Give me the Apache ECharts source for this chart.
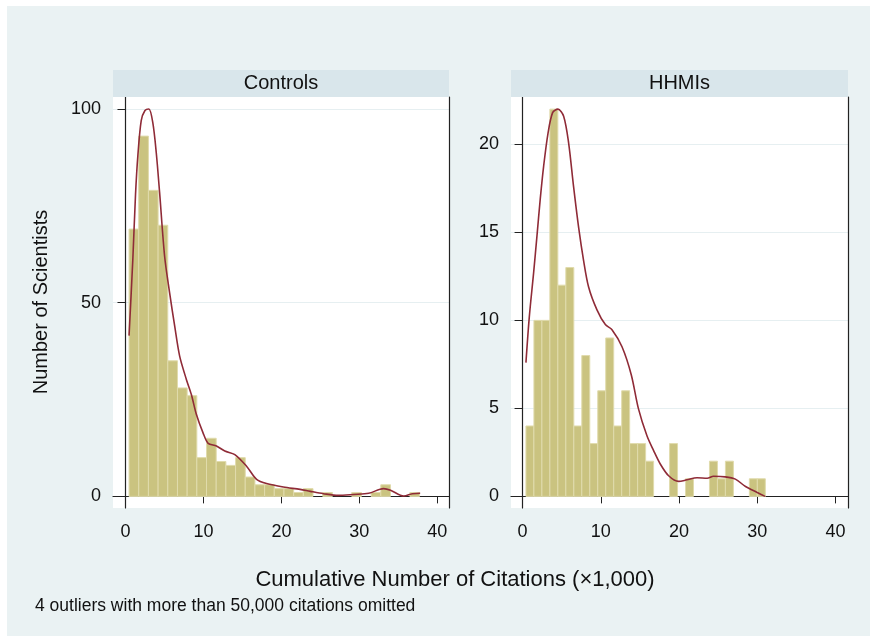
<!DOCTYPE html>
<html>
<head>
<meta charset="utf-8">
<script src="https://cdn.jsdelivr.net/npm/echarts@6/dist/echarts.min.js"></script>
<style>
  html, body { margin: 0; padding: 0; background: #ffffff; }
  #chart { width: 870px; height: 636px; }
</style>
</head>
<body>
<div id="chart"></div>
<script>
// Histogram counts per bin (30 equal-width bins per group)
const controlsCounts = [69, 93, 79, 70, 35, 28, 26, 10, 15, 9, 8, 10, 5, 3, 3, 2, 2, 1, 2, 0, 1, 0, 0, 1, 0, 1, 3, 0, 0, 1];
const hhmiCounts     = [4, 10, 10, 22, 12, 13, 4, 8, 3, 6, 9, 4, 6, 3, 3, 2, 0, 0, 3, 0, 1, 0, 0, 2, 1, 2, 0, 0, 1, 1];

// Bin layout (thousands of citations)
const controlsBinStart = 0.46, controlsBinWidth = 1.242;
const hhmiBinStart = 0.43, hhmiBinWidth = 1.020;

// Kernel density estimates, scaled to frequency
const controlsDensityX = [0.46, 0.94, 1.29, 1.59, 2.02, 2.5, 3.0, 3.51, 3.95, 4.38, 5.02, 5.66, 6.31, 6.95, 7.81, 8.45, 9.09, 9.95, 10.6, 11.67, 12.74, 14.03, 15.53, 16.82, 18.1, 20.25, 22.4, 23.7, 25.4, 27.3, 29.3, 31.2, 33.1, 34.0, 35.7, 36.8, 37.8];
const controlsDensityY = [41.5, 61, 78, 88, 97, 99.6, 100, 96.4, 88.7, 78.4, 62, 52.6, 44, 36.2, 30.2, 26.3, 21.2, 16.4, 13.7, 13, 11.7, 10.8, 7.8, 4.4, 3.3, 2.4, 1.8, 1.3, 0.7, 0.25, 0.5, 0.8, 2.0, 1.6, 0.1, 0.7, 0.8];
const hhmiDensityX = [0.43, 0.86, 1.41, 1.84, 2.26, 2.69, 3.24, 3.84, 4.52, 5.25, 5.88, 6.52, 7.16, 7.8, 8.44, 9.51, 10.58, 11.43, 12.71, 13.9, 14.8, 15.9, 16.75, 17.6, 18.67, 19.95, 21.0, 22.3, 23.6, 24.4, 25.9, 27.2, 28.5, 30.0, 31.0];
const hhmiDensityY = [7.6, 10.2, 12.7, 14.8, 16.9, 18.75, 20.6, 21.8, 22.0, 21.6, 20.1, 17.6, 15.3, 13.4, 11.9, 10.6, 9.76, 9.47, 8.5, 6.9, 5.0, 3.44, 2.6, 1.84, 1.17, 0.85, 0.94, 1.06, 1.03, 1.14, 1.11, 0.98, 0.56, 0.22, 0.0];

// Tick labels
const xTicks = [0, 10, 20, 30, 40];
const controlsYTicks = [0, 50, 100];
const hhmiYTicks = [0, 5, 10, 15, 20];

const panelTitles = ['Controls', 'HHMIs'];
const xTitle = 'Cumulative Number of Citations (\u00d71,000)';
const yTitle = 'Number of Scientists';
const note = '4 outliers with more than 50,000 citations omitted';

const FONT = '"Liberation Sans", Arial, sans-serif';
const BAR_FILL = 'rgb(202,195,128)';
const BAR_EDGE = 'rgb(224,219,172)';
const CURVE = '#8f2b37';
const GRID_LINE = '#e6eff1';
const AXIS_DARK = '#222';

function binRows(counts, start, width) {
  return counts.map((c, i) => [start + i * width, start + (i + 1) * width, c]);
}
function pairs(xs, ys) { return xs.map((x, i) => [x, ys[i]]); }

function histRender(params, api) {
  const h = api.value(2);
  if (!h) return null;
  const p0 = api.coord([api.value(0), h]);
  const p1 = api.coord([api.value(1), 0]);
  return {
    type: 'rect',
    shape: { x: p0[0], y: p0[1], width: p1[0] - p0[0], height: p1[1] - p0[1] },
    style: { fill: BAR_FILL, stroke: BAR_EDGE, lineWidth: 1 }
  };
}

const grids = [
  { left: 113, top: 97, width: 336, height: 411 },
  { left: 511, top: 97, width: 337, height: 411 }
];

function xAxisFor(gridIndex, min, max) {
  return {
    type: 'value', gridIndex, min, max, position: 'bottom',
    axisLine: { show: true, lineStyle: { color: AXIS_DARK, width: 1.2 } },
    axisTick: { show: true, length: 7, customValues: xTicks, lineStyle: { color: AXIS_DARK } },
    axisLabel: { customValues: xTicks, fontFamily: FONT, fontSize: 18, color: '#111', margin: 15 },
    splitLine: { show: false }
  };
}
function yAxisFor(gridIndex, min, max, ticks) {
  return {
    type: 'value', gridIndex, min, max, position: 'left',
    axisLine: { show: true, lineStyle: { color: AXIS_DARK, width: 1.2 } },
    axisTick: { show: true, length: 8, customValues: ticks, lineStyle: { color: AXIS_DARK } },
    axisLabel: { customValues: ticks, fontFamily: FONT, fontSize: 18, color: '#111', margin: 12 },
    splitLine: { show: true, lineStyle: { color: GRID_LINE, width: 1.2 } }
  };
}
function frameAxis(gridIndex) {
  return {
    type: 'value', gridIndex, position: 'right', min: 0, max: 1,
    axisLine: { show: true, onZero: false, lineStyle: { color: AXIS_DARK, width: 1.2 } },
    axisTick: { show: false }, axisLabel: { show: false }, splitLine: { show: false }
  };
}

const chart = echarts.init(document.getElementById('chart'), null, { renderer: 'canvas' });

const stripHeight = 27;
const graphic = [
  { type: 'rect', z: -10, shape: { x: 7, y: 6, width: 863, height: 630 }, style: { fill: '#eaf2f3' } },
  { type: 'rect', z: -5, shape: { x: grids[0].left, y: grids[0].top, width: grids[0].width, height: grids[0].height }, style: { fill: '#ffffff' } },
  { type: 'rect', z: -5, shape: { x: grids[1].left, y: grids[1].top, width: grids[1].width, height: grids[1].height }, style: { fill: '#ffffff' } }
];
grids.forEach((g, i) => {
  graphic.push({ type: 'rect', z: 10, shape: { x: g.left, y: g.top - stripHeight, width: g.width, height: stripHeight }, style: { fill: '#d9e6eb' } });
  graphic.push({ type: 'text', z: 11, x: g.left + g.width / 2, y: g.top - stripHeight / 2,
    style: { text: panelTitles[i], font: '20px ' + FONT, fill: '#111', align: 'center', verticalAlign: 'middle' } });
});
graphic.push({ type: 'text', x: 455, y: 580, style: { text: xTitle, font: '22px ' + FONT, fill: '#111', align: 'center', verticalAlign: 'middle' } });
graphic.push({ type: 'text', x: 41, y: 302, rotation: Math.PI / 2, style: { text: yTitle, font: '20px ' + FONT, fill: '#111', align: 'center', verticalAlign: 'middle' } });
graphic.push({ type: 'text', x: 35, y: 606, style: { text: note, font: '17.5px ' + FONT, fill: '#111', align: 'left', verticalAlign: 'middle' } });

chart.setOption({
  backgroundColor: '#ffffff',
  animation: false,
  graphic,
  grid: grids,
  xAxis: [xAxisFor(0, -1.6, 41.5), xAxisFor(1, -1.48, 41.6)],
  yAxis: [
    yAxisFor(0, -3.0, 103.1, controlsYTicks),
    yAxisFor(1, -0.66, 22.69, hhmiYTicks),
    frameAxis(0), frameAxis(1)
  ],
  series: [
    { type: 'custom', name: 'Controls', xAxisIndex: 0, yAxisIndex: 0, renderItem: histRender,
      encode: { x: [0, 1], y: 2 }, data: binRows(controlsCounts, controlsBinStart, controlsBinWidth) },
    { type: 'custom', name: 'HHMIs', xAxisIndex: 1, yAxisIndex: 1, renderItem: histRender,
      encode: { x: [0, 1], y: 2 }, data: binRows(hhmiCounts, hhmiBinStart, hhmiBinWidth) },
    { type: 'line', xAxisIndex: 0, yAxisIndex: 0, data: pairs(controlsDensityX, controlsDensityY),
      smooth: 0.3, showSymbol: false, symbol: 'none', lineStyle: { color: CURVE, width: 1.6 }, z: 5 },
    { type: 'line', xAxisIndex: 1, yAxisIndex: 1, data: pairs(hhmiDensityX, hhmiDensityY),
      smooth: 0.3, showSymbol: false, symbol: 'none', lineStyle: { color: CURVE, width: 1.6 }, z: 5 }
  ]
});
</script>
</body>
</html>
